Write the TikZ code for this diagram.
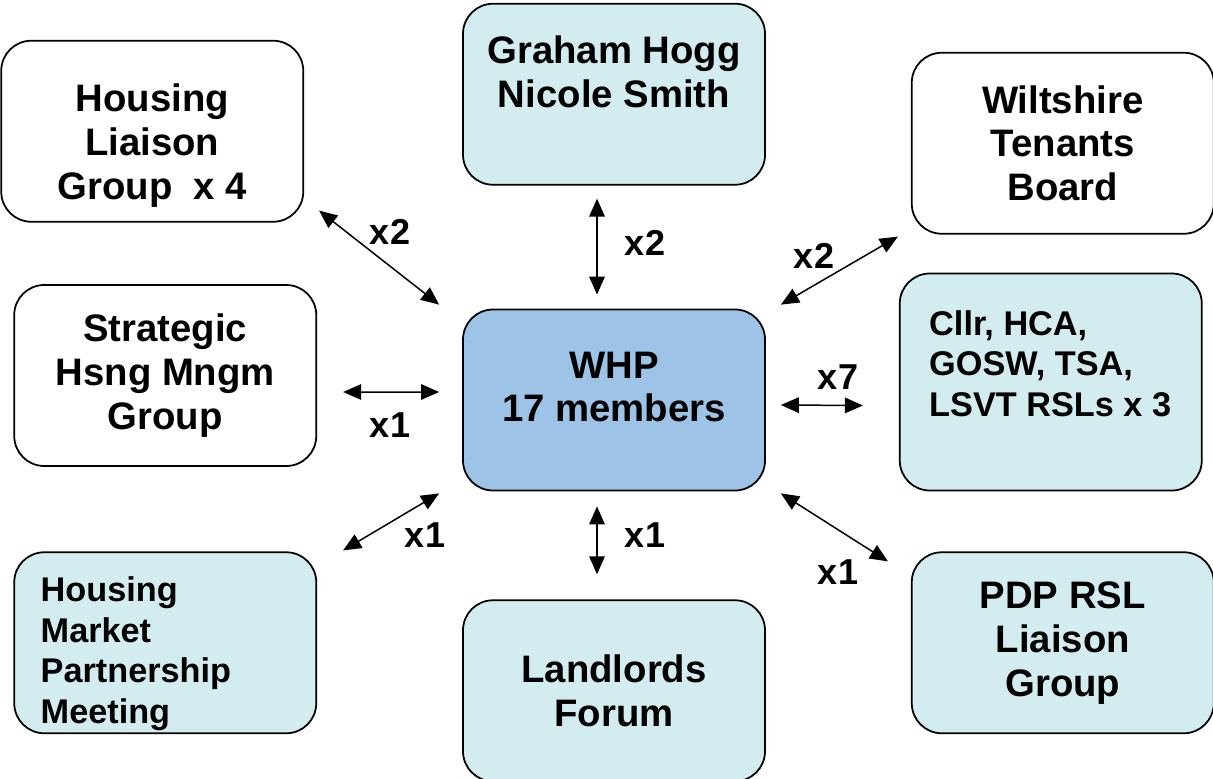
\documentclass[tikz,border=0pt]{standalone}
\usepackage{fontspec}
\setmainfont{Liberation Sans}
\usepackage{xcolor}
\usetikzlibrary{positioning, arrows.meta}
\definecolor{hubblue}{HTML}{9DC3E6}
\definecolor{paleblue}{HTML}{D3ECF0}

\begin{document}
\begin{tikzpicture}[node distance=2.9cm,>={Triangle[length=3.6mm,width=3.1mm]}]
\tikzset{words/.style={align=center,font=\fontsize{21.8}{25}\selectfont\bfseries},
  small/.style={font=\fontsize{19.5}{23}\selectfont\bfseries},
  panel/.style={words,draw,line width=1pt,rounded corners=0.6cm,minimum width=6.04cm,minimum height=3.62cm},
  link/.style={<->,line width=0.85pt},
  count/.style={font=\fontsize{20.5}{24}\selectfont\bfseries}}
\useasboundingbox (0,0) rectangle (24.26,-15.56);

\node[panel,fill=hubblue] (whp) at (12.28,-8) {};
\node[panel] (hlg) [above left=1.72cm and 3.16cm of whp] {};
\node[panel,fill=paleblue] (graham) [above=2.46cm of whp] {};
\node[panel] (wtb) [above right=1.48cm and 2.9cm of whp] {Wiltshire\\Tenants\\Board};
\node[panel] (shmg) [left=2.9cm of whp,yshift=0.49cm] {Strategic\\Hsng Mngm\\Group};
\node[panel,fill=paleblue,minimum height=4.34cm] (cllr) [right=2.66cm of whp.south east,anchor=south west] {};
\node[panel,fill=paleblue] (hmp) [below left=1.2cm and 2.9cm of whp] {};
\node[panel,fill=paleblue] (forum) [below=2.16cm of whp] {Landlords\\Forum};
\node[panel,fill=paleblue] (pdp) [below right=1.2cm and 2.9cm of whp] {PDP RSL\\Liaison\\Group};

% texts that sit off centre in their boxes
\node[words] (whptxt) at ([yshift=0.26cm]whp.center) {WHP\\17 members};
\node[words] (hlgtxt) at ([yshift=-0.28cm]hlg.center) {Housing\\Liaison\\Group\ \ x 4};
\node[words] (grahamtxt) at ([yshift=0.44cm]graham.center) {Graham Hogg\\Nicole Smith};
\node[small,align=left,anchor=west,inner sep=0pt] (cllrtxt) at ([shift={(0.6,0.37)}]cllr.west) {Cllr, HCA,\\GOSW, TSA,\\LSVT RSLs x 3};
\node[small,align=left,anchor=west,inner sep=0pt] (hmptxt) at ([shift={(0.54,-0.22)}]hmp.west) {Housing\\Market\\Partnership\\Meeting};

\draw[link] ([shift={(0.3,0.24)}]hlg.south east) -- ([shift={(-0.46,0.08)}]whp.north west);
\draw[link] ([shift={(-0.34,-0.26)}]graham.south) -- ([shift={(-0.34,0.28)}]whp.north);
\draw[link] ([shift={(0.3,0.08)}]whp.north east) -- ([shift={(-0.26,-0.04)}]wtb.south west);
\draw[link] ([shift={(0.52,-0.33)}]shmg.east) -- ([shift={(-0.46,0.16)}]whp.west);
\draw[link] ([shift={(0.3,-0.1)}]whp.east) -- ([shift={(-0.72,-0.47)}]cllr.west);
\draw[link] ([shift={(0.52,0.02)}]hmp.north east) -- ([shift={(-0.46,-0.04)}]whp.south west);
\draw[link] ([shift={(-0.34,-0.3)}]whp.south) -- ([shift={(-0.34,0.5)}]forum.north);
\draw[link] ([shift={(0.3,-0.04)}]whp.south east) -- ([shift={(-0.46,-0.2)}]pdp.north west);

\node[count] (c-hlg) at (7.8,-4.64) {x2};
\node[count] (c-graham) at (12.9,-4.86) {x2};
\node[count] (c-wtb) at (16.28,-5.12) {x2};
\node[count] (c-shmg) at (7.8,-8.5) {x1};
\node[count] (c-cllr) at (16.76,-7.54) {x7};
\node[count] (c-hmp) at (8.5,-10.7) {x1};
\node[count] (c-forum) at (12.9,-10.7) {x1};
\node[count] (c-pdp) at (16.76,-11.44) {x1};
\end{tikzpicture}
\end{document}
